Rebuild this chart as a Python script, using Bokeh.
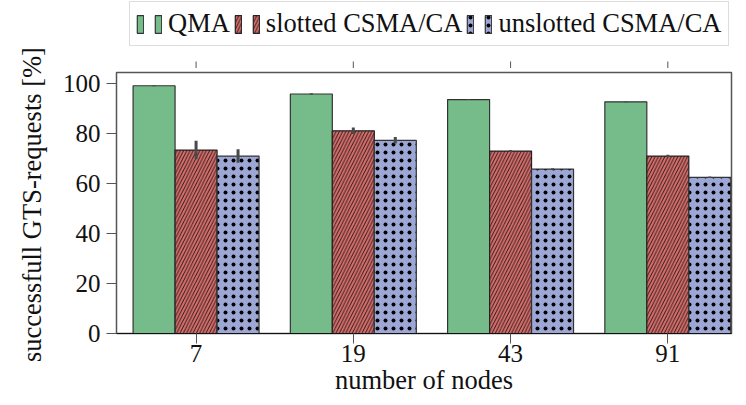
import math
from bokeh.plotting import figure
from bokeh.layouts import column, row
from bokeh.models import Range1d, FixedTicker, Legend, LegendItem, ColumnDataSource
from bokeh.core.properties import value
from bokeh.transform import dodge
from bokeh.embed import file_html
from bokeh.resources import INLINE

nodes = ["7", "19", "43", "91"]
qma = [99.0, 95.7, 93.5, 92.6]
qma_err = [0.2, 0.3, 0.15, 0.15]
slotted = [73.3, 81.0, 72.9, 70.9]
slotted_err = [3.7, 1.3, 0.4, 0.5]
unslotted = [70.9, 77.2, 65.7, 62.4]
unslotted_err = [2.7, 1.3, 0.3, 0.3]
series_names = ["QMA", "slotted CSMA/CA", "unslotted CSMA/CA"]
y_ticks = [0, 20, 40, 60, 80, 100]
x_title = "number of nodes"
y_title = "successfull GTS-requests [%]"

FONT = "Liberation Serif"
FS_TICK = "25px"
FS_LAB = "26.5px"

xpos = list(range(len(nodes)))
src = ColumnDataSource(dict(
    x=xpos,
    qma=qma, qma_lo=[v - e for v, e in zip(qma, qma_err)], qma_hi=[v + e for v, e in zip(qma, qma_err)],
    sl=slotted, sl_lo=[v - e for v, e in zip(slotted, slotted_err)], sl_hi=[v + e for v, e in zip(slotted, slotted_err)],
    us=unslotted, us_lo=[v - e for v, e in zip(unslotted, unslotted_err)], us_hi=[v + e for v, e in zip(unslotted, unslotted_err)],
))

xr = Range1d(-0.506, 3.405)
W = 0.267
colors = ["#76bc8a", "#d86e6c", "#9ca7d5"]
styles = [
    dict(fill_color=colors[0], line_color="#333333", line_width=1.2),
    dict(fill_color=colors[1], line_color="#222222", line_width=1.2,
         hatch_pattern="/", hatch_color="#111111", hatch_scale=6.5, hatch_weight=0.9),
    dict(fill_color=colors[2], line_color="#333333", line_width=1.2,
         hatch_pattern=".", hatch_color="#000000", hatch_scale=8, hatch_weight=1),
]

LEFT, RIGHT = 63, 13
MAIN_W = 691
LG_H = 68
MAIN_H = 329

# ---- main plot ----
p = figure(width=MAIN_W, height=MAIN_H, output_backend="svg", toolbar_location=None,
           x_range=xr, y_range=Range1d(0, 104.3),
           min_border_left=LEFT, min_border_right=RIGHT, min_border_bottom=0, min_border_top=4)
p.xgrid.visible = False
p.ygrid.visible = False
p.outline_line_color = "#555555"
p.outline_line_width = 1.5

p.vbar(x=dodge("x", -W, range=xr), top="qma", width=W, source=src, **styles[0])
p.vbar(x="x", top="sl", width=W, source=src, **styles[1])
p.vbar(x=dodge("x", W, range=xr), top="us", width=W, source=src, **styles[2])

ec = "#4a4a4a"
p.segment(x0=dodge("x", -W, range=xr), x1=dodge("x", -W, range=xr),
          y0="qma_lo", y1="qma_hi", source=src, line_color=ec, line_width=3)
p.segment(x0="x", x1="x", y0="sl_lo", y1="sl_hi", source=src, line_color=ec, line_width=3)
p.segment(x0=dodge("x", W, range=xr), x1=dodge("x", W, range=xr),
          y0="us_lo", y1="us_hi", source=src, line_color=ec, line_width=3)

xa = p.xaxis[0]
xa.ticker = FixedTicker(ticks=xpos)
xa.major_label_overrides = {i: n for i, n in enumerate(nodes)}
xa.axis_label = x_title
ya = p.yaxis[0]
ya.ticker = FixedTicker(ticks=y_ticks)
for ax in (xa, ya):
    ax.major_label_text_font = FONT
    ax.major_label_text_font_size = FS_TICK
    ax.axis_label_text_font = FONT
    ax.axis_label_text_font_size = FS_LAB
    ax.axis_label_text_font_style = "normal"
    ax.major_label_text_color = "#111111"
    ax.axis_label_text_color = "#111111"
    ax.minor_tick_line_color = None
    ax.major_tick_in = 0
    ax.major_tick_line_color = "#555555"
xa.major_tick_out = 10
ya.major_tick_out = 10
xa.axis_line_color = "#111111"
ya.axis_line_color = "#555555"
xa.axis_label_standoff = 0
xa.major_label_standoff = 1
ya.major_label_standoff = 6

# ---- legend strip (shares x range so the mirrored top ticks line up) ----
lg = figure(width=MAIN_W, height=LG_H, output_backend="svg", toolbar_location=None,
            x_range=xr, y_range=Range1d(0, LG_H), x_axis_type=None, y_axis_type=None,
            min_border_left=LEFT, min_border_right=RIGHT, min_border_top=0, min_border_bottom=0)
lg.outline_line_color = None
lg.xgrid.visible = False
lg.ygrid.visible = False
lg.segment(x0="x", x1="x", y0=0, y1=7, source=ColumnDataSource(dict(x=xpos)),
           line_color="#555555", line_width=1)

proxy = ColumnDataSource(dict(x=[float("nan")], top=[float("nan")]))
dummies = [lg.vbar(x="x", top="top", width=W, source=proxy, **s) for s in styles]
items = []
for name, r in zip(series_names, dummies):
    items.append(LegendItem(label="", renderers=[r]))
    items.append(LegendItem(label=name, renderers=[r]))
legend = Legend(items=items, orientation="horizontal", location=(13, 22),
                label_text_font=FONT, label_text_font_size=FS_LAB, label_text_color="#111111",
                glyph_width=8, glyph_height=22, spacing=4, padding=6, label_standoff=6,
                label_width=0, label_height=22,
                border_line_color="#bbbbbb", border_line_width=1, margin=0,
                background_fill_color="white")
lg.add_layout(legend)

# ---- y-axis title strip ----
yl = figure(width=53, height=LG_H + MAIN_H, output_backend="svg", toolbar_location=None,
            x_range=Range1d(0, 1), y_range=Range1d(0, 1), x_axis_type=None, y_axis_type=None,
            min_border=0)
yl.outline_line_color = None
yl.xgrid.visible = False
yl.ygrid.visible = False
yl.text(x=[0.6], y=[0.486], text=[y_title], angle=math.pi / 2,
        text_font=value(FONT), text_font_size=FS_LAB, text_color="#111111",
        text_align="center", text_baseline="middle")

layout = row(yl, column(lg, p, spacing=0), spacing=0)
open("out.html", "w").write(file_html(layout, INLINE))
